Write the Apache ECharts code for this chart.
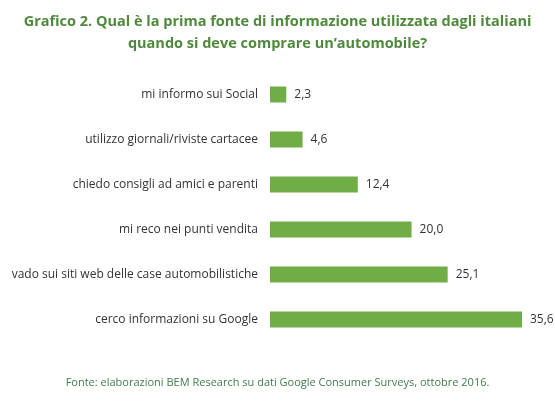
<!DOCTYPE html>
<html><head><meta charset="utf-8">
<script src="https://cdn.jsdelivr.net/npm/echarts@6/dist/echarts.min.js"></script>
<style>body{margin:0;background:#fff}#c{width:555px;height:416px}</style>
</head><body><div id="c"></div>
<script>
// --- Data ---
const categories = [
  'cerco informazioni su Google',
  'vado sui siti web delle case automobilistiche',
  'mi reco nei punti vendita',
  'chiedo consigli ad amici e parenti',
  'utilizzo giornali/riviste cartacee',
  'mi informo sui Social'
];
const values = [35.6, 25.1, 20.0, 12.4, 4.6, 2.3];

const chart = echarts.init(document.getElementById('c'));
chart.setOption({
  animation: false,
  title: [{
    text: "Grafico 2. Qual è la prima fonte di informazione utilizzata dagli italiani\nquando si deve comprare un’automobile?",
    left: 'center', top: 6,
    textStyle: { color: '#4F8A3C', fontSize: 14.5, fontWeight: 'bold', fontFamily: 'Open Sans', lineHeight: 22, align: 'center' }
  }, {
    text: 'Fonte: elaborazioni BEM Research su dati Google Consumer Surveys, ottobre 2016.',
    left: 'center', top: 372,
    textStyle: { color: '#3E7B4E', fontSize: 11, fontWeight: 'normal', fontFamily: 'Open Sans' }
  }],
  grid: { left: 270, right: 33, top: 72, bottom: 74 },
  xAxis: { type: 'value', min: 0, max: 35.6, show: false },
  yAxis: {
    type: 'category', data: categories,
    axisLine: { show: false }, axisTick: { show: false },
    axisLabel: { color: '#333', fontSize: 12, fontFamily: 'Open Sans', margin: 12 }
  },
  series: [{
    type: 'bar', data: values, barWidth: 16,
    itemStyle: { color: '#70AD47' },
    label: {
      show: true, position: 'right', distance: 8, color: '#333', fontSize: 12, fontFamily: 'Open Sans',
      formatter: p => p.value.toFixed(1).replace('.', ',')
    }
  }]
});
</script></body></html>
